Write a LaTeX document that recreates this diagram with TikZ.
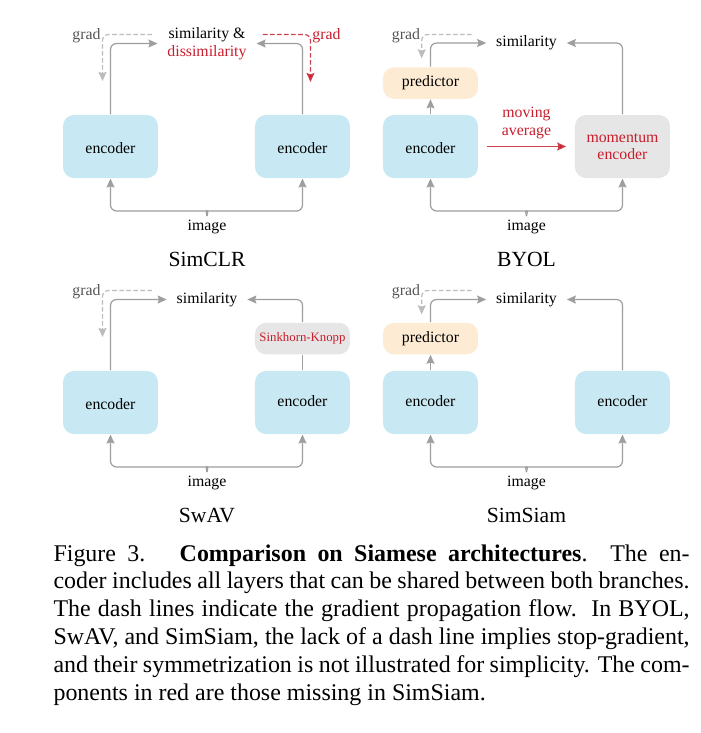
\documentclass[tikz,border=0pt]{standalone}
\usepackage{fontspec}
\setmainfont{Liberation Serif}
\usetikzlibrary{arrows.meta}
\definecolor{encblue}{RGB}{200,233,243}
\definecolor{predor}{RGB}{253,235,211}
\definecolor{boxgray}{RGB}{230,230,230}
\definecolor{lgray}{RGB}{158,158,158}
\definecolor{dgray}{RGB}{188,188,188}
\definecolor{sred}{RGB}{200,30,45}
\definecolor{gradgray}{RGB}{85,85,85}
\newcommand\dfont{\fontsize{5.94}{6.95}\selectfont}
\newcommand\mfont{\fontsize{5.94}{6.62}\selectfont}
\newcommand\tfont{\fontsize{8.12}{9.7}\selectfont}
\newcommand\skfont{\fontsize{4.81}{5.8}\selectfont}
\newcommand\capfont{\fontsize{9}{10.45}\selectfont}
\newcommand\capline[1]{\hbox to 239.1pt{\spaceskip=0.25em plus 0.2em minus 0.12em\relax #1}}
\begin{document}
\begin{tikzpicture}[x=0.3759pt,y=-0.3759pt,
  box/.style={rounded corners=4.13pt, minimum width=35.71pt, inner sep=0pt, font=\dfont},
  encbox/.style={box, fill=encblue, minimum height=23.68pt},
  lowtext/.style={text height=5.32pt, text depth=0pt},
  hightext/.style={text height=3.28pt, text depth=0pt},
  predbox/.style={box, fill=predor, minimum height=11.84pt},
  graybox/.style={box, fill=boxgray},
  lbl/.style={font=\dfont, inner sep=0pt},
  simlbl/.style={font=\dfont, inner ysep=0pt, inner xsep=3.57pt},
  gradlbl/.style={font=\dfont, inner sep=0pt, text=gradgray, anchor=base},
  title/.style={font=\tfont, inner sep=0pt, anchor=base},
  capl/.style={font=\capfont, inner sep=0pt, anchor=base west},
  gline/.style={draw=lgray, line width=0.45pt},
  garr/.style={gline, rounded corners=2.26pt, -{Stealth[length=3.4pt,width=3pt,inset=0.5pt]}},
  gdash/.style={draw=dgray, line width=0.45pt, dash pattern=on 1.7pt off 0.95pt, rounded corners=2.26pt, -{Stealth[length=3.4pt,width=3pt,inset=0.5pt]}},
  rdash/.style={draw=sred!85, line width=0.45pt, dash pattern=on 1.7pt off 0.95pt, rounded corners=2.26pt, -{Stealth[length=3.4pt,width=3pt,inset=0.5pt,fill=sred]}},
  rarr/.style={draw=sred!85, line width=0.45pt, -{Stealth[length=3.4pt,width=3pt,inset=0.5pt,fill=sred]}}
]
\fill[white] (0,0) rectangle (701,733);
\useasboundingbox (0,0) rectangle (701,733);

% ---------------- SimCLR ----------------
\node[encbox, lowtext] (a1) at (110.5,146.5) {encoder};
\node[encbox, lowtext] (a2) at (302.5,146.5) {encoder};
\node[simlbl, align=center] (asim) at (207,43.5) {similarity \&\\\textcolor{sred}{dissimilarity}};
\draw[garr] (a1.north) |- (asim.west);
\draw[garr] (a2.north) |- (asim.east);
\node[gradlbl] (ag) at (86.5,39) {grad};
\coordinate (agS) at (152,34.5);
\coordinate (agE) at (102.5,81);
\draw[gdash] (agS) -| (agE);
\node[gradlbl, text=sred] (arg) at (326.5,39) {grad};
\coordinate (arS) at (263,34.5);
\coordinate (arE) at (310.5,82);
\draw[rdash] (arS) -| (arE);
\node[lbl, anchor=base] (aimg) at (207,230) {image};
\coordinate (atip) at (207,216);
\draw[garr] (atip) .. controls (207,213) and (205,211) .. (201,211) -| (a1.south);
\draw[garr] (atip) .. controls (207,213) and (209,211) .. (213,211) -| (a2.south);
\node[title] (at) at (207,266) {SimCLR};

% ---------------- BYOL ----------------
\node[encbox, lowtext] (b1) at (430.5,146.5) {encoder};
\node[predbox] (bp) at (430.5,83) {predictor};
\node[graybox, minimum height=23.68pt, align=center, font=\mfont, text=sred] (bm) at (622.5,146.5) {momentum\\encoder};
\node[simlbl] (bsim) at (526.5,43) {similarity};
\draw[garr] (b1) -- (bp);
\draw[garr] (bp.north) |- (bsim.west);
\draw[garr] (bm.north) |- (bsim.east);
\node[gradlbl] (bg) at (406,39) {grad};
\coordinate (bgS) at (471.7,34.5);
\coordinate (bgE) at (421.7,58.3);
\draw[gdash] (bgS) -| (bgE);
\node[lbl, align=center, font=\mfont, text=sred] (bmv) at (526.5,123) {moving\\average};
\draw[rarr, shorten <=3.27pt, shorten >=3.1pt] (b1) -- (bm);
\node[lbl, anchor=base] (bimg) at (526.5,230) {image};
\coordinate (btip) at (526.5,216);
\draw[garr] (btip) .. controls (526.5,213) and (524.5,211) .. (520.5,211) -| (b1.south);
\draw[garr] (btip) .. controls (526.5,213) and (528.5,211) .. (532.5,211) -| (bm.south);
\node[title] (bt) at (526.5,266) {BYOL};

% ---------------- SwAV ----------------
\node[encbox, lowtext] (c1) at (110.5,402.5) {encoder};
\node[encbox, hightext] (c2) at (302.5,402.5) {encoder};
\node[graybox, minimum height=11.84pt, font=\skfont, text=sred] (csk) at (302.5,338.5) {Sinkhorn-Knopp};
\node[simlbl] (csim) at (207,299.5) {similarity};
\draw[gline] (c2) -- (csk);
\draw[garr] (c1.north) |- (csim.west);
\draw[garr] (csk.north) |- (csim.east);
\node[gradlbl] (cg) at (86.5,295.5) {grad};
\coordinate (cgS) at (152,290.5);
\coordinate (cgE) at (102.5,337);
\draw[gdash] (cgS) -| (cgE);
\node[lbl, anchor=base] (cimg) at (207,486) {image};
\coordinate (ctip) at (207,472);
\draw[garr] (ctip) .. controls (207,469) and (205,467) .. (201,467) -| (c1.south);
\draw[garr] (ctip) .. controls (207,469) and (209,467) .. (213,467) -| (c2.south);
\node[title] (ct) at (207,522) {SwAV};

% ---------------- SimSiam ----------------
\node[encbox, hightext] (d1) at (430.5,402.5) {encoder};
\node[encbox, hightext] (d2) at (622.5,402.5) {encoder};
\node[predbox] (dp) at (430.5,338.5) {predictor};
\node[simlbl] (dsim) at (526.5,299.5) {similarity};
\draw[garr] (d1) -- (dp);
\draw[garr] (dp.north) |- (dsim.west);
\draw[garr] (d2.north) |- (dsim.east);
\node[gradlbl] (dg) at (406,295.5) {grad};
\coordinate (dgS) at (471.7,290.5);
\coordinate (dgE) at (421.7,314.3);
\draw[gdash] (dgS) -| (dgE);
\node[lbl, anchor=base] (dimg) at (526.5,486) {image};
\coordinate (dtip) at (526.5,472);
\draw[garr] (dtip) .. controls (526.5,469) and (524.5,467) .. (520.5,467) -| (d1.south);
\draw[garr] (dtip) .. controls (526.5,469) and (528.5,467) .. (532.5,467) -| (d2.south);
\node[title] (dt) at (526.5,522) {SimSiam};

% ---------------- caption ----------------
\node[capl] (cap1) at (53,561) {\capline{Figure 3.\ \ \ \textbf{Comparison on Siamese architectures}.\ \ The en-}};
\node[capl] (cap2) at (53,588.8) {\capline{coder includes all layers that can be shared between both branches.}};
\node[capl] (cap3) at (53,616.6) {\capline{The dash lines indicate the gradient propagation flow.\ \ In BYOL,}};
\node[capl] (cap4) at (53,644.4) {\capline{SwAV, and SimSiam, the lack of a dash line implies stop-gradient,}};
\node[capl] (cap5) at (53,672.2) {\capline{and their symmetrization is not illustrated for simplicity. The com-}};
\node[capl] (cap6) at (53,700) {ponents in red are those missing in SimSiam.};
\end{tikzpicture}
\end{document}
